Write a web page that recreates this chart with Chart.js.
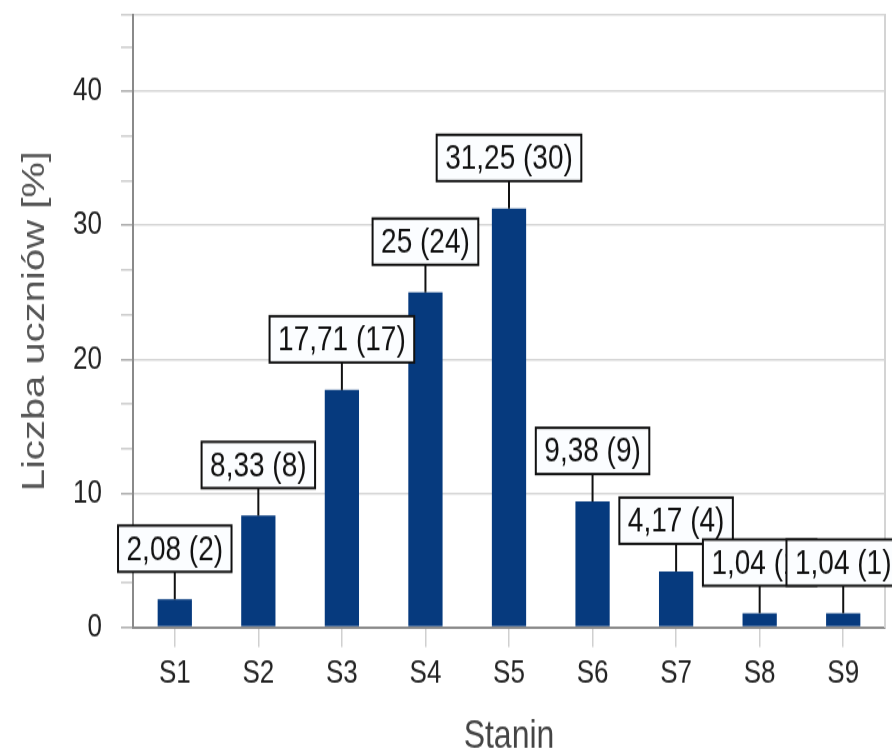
<!DOCTYPE html>
<html lang="pl">
<head>
<meta charset="utf-8">
<title>Stanin</title>
<script src="https://cdn.jsdelivr.net/npm/chart.js@4/dist/chart.umd.min.js"></script>
<style>
  html, body { margin: 0; padding: 0; background: #fff; }
  #ramka { width: 892px; height: 754px; overflow: hidden; position: relative; }
  /* oryginalny wykres jest rozciagniety w pionie */
  #wrap { position: absolute; left: 0; top: 0; width: 892px; height: 603px; transform: scaleY(1.2504); transform-origin: 0 0; }
  canvas { display: block; }
</style>
</head>
<body>
<div id="ramka"><div id="wrap"><canvas id="wykres" width="892" height="603"></canvas></div></div>
<script>
const stanin = ["S1", "S2", "S3", "S4", "S5", "S6", "S7", "S8", "S9"];
const procent = [2.08, 8.33, 17.71, 25, 31.25, 9.38, 4.17, 1.04, 1.04];
const liczba = [2, 8, 17, 24, 30, 9, 4, 1, 1];
const yEtykiety = [0, 10, 20, 30, 40];
const yMax = 45.7;
const yKrok = 10 / 3;
const tytulY = "Liczba uczniów [%]";
const tytulX = "Stanin";

const FONT = "'Liberation Sans', Arial, sans-serif";

function glowny(v) {
  return yEtykiety.some(e => Math.abs(e - v) < 1e-6);
}

// ramki z wartosciami nad slupkami
const etykietyPlugin = {
  id: "etykiety",
  afterDatasetsDraw(chart) {
    const ctx = chart.ctx;
    const meta = chart.getDatasetMeta(0);
    ctx.save();
    ctx.font = "28px " + FONT;
    ctx.textAlign = "center";
    ctx.textBaseline = "middle";
    meta.data.forEach((bar, i) => {
      const tekst = String(procent[i]).replace(".", ",") + " (" + liczba[i] + ")";
      const w = ctx.measureText(tekst).width + 17;
      const h = 37;
      const dol = bar.y - 22;
      ctx.strokeStyle = "#111";
      ctx.lineWidth = 2;
      ctx.beginPath();
      ctx.moveTo(bar.x, bar.y);
      ctx.lineTo(bar.x, dol);
      ctx.stroke();
      ctx.fillStyle = "#fbfdff";
      ctx.fillRect(bar.x - w / 2, dol - h, w, h);
      ctx.strokeRect(bar.x - w / 2, dol - h, w, h);
      ctx.fillStyle = "#111";
      ctx.fillText(tekst, bar.x, dol - h / 2 + 1);
    });
    ctx.restore();
  }
};

new Chart(document.getElementById("wykres"), {
  type: "bar",
  data: {
    labels: stanin,
    datasets: [{
      data: procent,
      backgroundColor: "#063a7e",
      barPercentage: 0.41,
      categoryPercentage: 1
    }]
  },
  options: {
    responsive: false,
    animation: false,
    devicePixelRatio: 1,
    layout: { padding: { top: 12, right: 7, left: 0, bottom: 0 } },
    plugins: { legend: { display: false }, tooltip: { enabled: false } },
    scales: {
      x: {
        grid: { offset: false, drawOnChartArea: false, tickLength: 16, tickColor: "#d0d0d0", lineWidth: 1.5 },
        border: { color: "#8a8a8a", width: 2 },
        ticks: { padding: 6, color: "#222", font: { family: FONT, size: 26 }, maxRotation: 0, autoSkip: false },
        title: {
          display: true, text: tytulX, color: "#444",
          font: { family: FONT, size: 32, lineHeight: 1 },
          padding: { top: 0, bottom: -2 }
        },
        afterFit(scale) { scale.height = 101.4; }
      },
      y: {
        min: 0,
        max: yMax,
        afterBuildTicks(scale) {
          const t = [];
          for (let i = 0; i * yKrok < yMax - 1; i++) t.push({ value: i * yKrok });
          t.push({ value: yMax });
          scale.ticks = t;
        },
        grid: {
          lineWidth: 1.6,
          tickLength: 12,
          color: c => (glowny(c.tick.value) || c.tick.value === yMax) ? "#d6d6d6" : "rgba(0,0,0,0)",
          tickColor: c => glowny(c.tick.value) ? "#b0b0b0" : "#cfcfcf"
        },
        border: { color: "#8a8a8a", width: 2 },
        ticks: {
          padding: 19,
          color: "#222",
          font: { family: FONT, size: 26, lineHeight: 0.9 },
          callback: v => glowny(v) ? String(Math.round(v)) : ""
        },
        title: {
          display: true, text: tytulY, color: "#555",
          font: { family: FONT, size: 32 },
          padding: { top: 16, bottom: 0 }
        },
        afterFit(scale) {
          scale.width = 133;
          scale.paddingTop = 0;
          scale.paddingBottom = 0;
        }
      },
      prawa: {
        type: "linear",
        position: "right",
        min: 0,
        max: yMax,
        ticks: { display: false },
        grid: { display: false, drawTicks: false },
        border: { color: "#d4d4d4", width: 2 },
        afterFit(scale) {
          scale.width = 0;
          scale.paddingTop = 0;
          scale.paddingBottom = 0;
        }
      }
    }
  },
  plugins: [etykietyPlugin]
});
</script>
</body>
</html>
